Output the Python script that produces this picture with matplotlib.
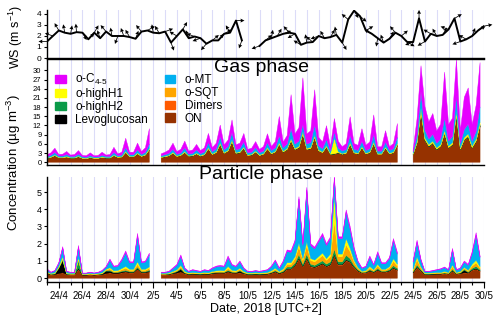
import numpy as np
import pandas as pd
import matplotlib
matplotlib.use('Agg')
import matplotlib.pyplot as plt
import matplotlib.dates as mdates
import matplotlib.patches as mpatches
from matplotlib.ticker import FuncFormatter

plt.rcParams['font.family'] = ['Liberation Sans', 'DejaVu Sans']
plt.rcParams['mathtext.fontset'] = 'custom'
plt.rcParams['mathtext.rm'] = 'Liberation Sans'
plt.rcParams['mathtext.it'] = 'Liberation Sans:italic'
plt.rcParams['mathtext.default'] = 'regular'

nan = np.nan

# ---------------- time bases ----------------
conc_time = pd.date_range('2018-04-23 00:00', periods=111, freq='8h')
ws_time = pd.date_range('2018-04-23 00:00', periods=75, freq='12h')

# ---------------- wind ----------------
ws_speed = [1.5, 2.0, 2.5, 2.3, 2.2, 2.35, 2.3, 1.7, 2.3, 1.8,
            2.4, 2.0, 2.0, 2.0, 1.9, 1.75, 2.4, 2.5, 2.3, 2.25,
            2.4, 1.4, 2.0, 2.6, 1.8, 1.95, 1.8, 1.3, 1.6, 1.6,
            2.2, 2.3, 3.4, 1.6, nan, nan,
            1.1, 1.6, 1.8, 2.0, 2.2, 2.3, 2.2, 1.2, 1.4, 1.45,
            2.0, 1.8, 1.9, 2.1, 1.4, 3.5, 4.3, 3.8, 2.5, 2.2,
            1.8, 1.4, 1.75, 2.3, 2.0, 1.45, 1.45, 3.6, 1.5, 2.2,
            2.0, 2.1, 2.6, 3.6, 1.5, 1.7, 2.0, 2.5, 2.9]
ws_dir = [180, 160, 120, 100, 80, 95, 300, 45, 60, 110,
          130, 100, 250, 110, 120, 70, 130, 30, 100, 120,
          20, 290, 150, 60, 110, 160, 200, 230, 40, 50,
          30, 120, 0, 250, nan, nan,
          200, 40, 80, 60, 20, 130, 210, 150, 100, 140,
          200, 120, 60, 100, 300, 140, 300, 320, 30, 150,
          260, 110, 60, 130, 40, 330, 200, 90, 210, 150,
          120, 60, 160, 30, 200, 150, 70, 30, 10]

# ---------------- gas phase (ug m-3) ----------------
gas_on = [1.2, 1.5, 2.0, 1.4, 1.4, 1.6, 1.3, 1.3, 1.7, 1.2, 1.1, 1.4, 1.2, 1.2, 1.5, 1.3, 1.3, 2.0,
          1.5, 1.6, 3.0, 1.7, 1.7, 2.6, 1.8, 2.2, 3.8, nan, nan, 1.5, 1.7, 2.0, 2.8, 1.8, 2.1, 3.0,
          1.9, 2.0, 2.6, 1.9, 2.3, 4.2, 2.4, 3.0, 5.6, 2.8, 3.5, 6.5, 2.8, 3.0, 4.4, 2.1, 2.3, 3.2,
          2.1, 2.5, 4.2, 2.6, 3.2, 5.6, 3.2, 4.0, 6.7, 4.0, 4.6, 8.9, 4.0, 4.3, 7.8, 3.6, 3.0, 4.8,
          2.5, 2.6, 3.0, 2.5, 2.8, 5.6, 2.9, 2.6, 4.5, 2.6, 3.0, 5.8, 2.5, 2.5, 4.4, 2.6, 3.0, 5.4,
          nan, nan, nan, 2.5, 6.0, 16.0, 7.0, 5.0, 6.0, 4.0, 5.0, 9.0, 4.5, 5.5, 14.9, 4.0, 7.0, 8.0,
          4.5, 6.5, 11.6]
gas_mt = [0.4, 0.5, 0.8, 0.4, 0.4, 0.6, 0.4, 0.4, 0.6, 0.4, 0.3, 0.5, 0.3, 0.3, 0.5, 0.4, 0.4, 0.8,
          0.4, 0.5, 1.2, 0.5, 0.5, 1.0, 0.5, 0.7, 1.5, nan, nan, 0.4, 0.5, 0.6, 1.0, 0.5, 0.6, 1.2,
          0.5, 0.6, 1.0, 0.6, 0.7, 1.6, 0.7, 1.0, 2.0, 0.9, 1.2, 2.4, 0.9, 1.0, 1.6, 0.7, 0.7, 1.1,
          0.7, 0.8, 1.6, 0.9, 1.1, 2.2, 1.1, 1.4, 3.3, 1.4, 1.7, 2.3, 1.4, 1.6, 3.4, 1.3, 1.0, 2.0,
          0.9, 2.0, 1.2, 0.9, 1.0, 2.3, 1.0, 0.9, 1.7, 0.9, 1.0, 2.4, 0.8, 0.8, 1.6, 0.9, 1.0, 2.0,
          nan, nan, nan, 0.7, 2.0, 5.4, 2.5, 1.8, 2.2, 1.5, 1.8, 4.0, 1.6, 2.0, 5.2, 1.4, 2.6, 3.2,
          1.6, 2.5, 5.0]
gas_c45 = [0.6, 0.8, 1.4, 0.5, 0.6, 1.0, 0.4, 0.6, 1.2, 0.4, 0.5, 0.9, 0.4, 0.5, 1.0, 0.4, 0.6, 1.7,
           0.6, 0.9, 3.1, 0.8, 0.8, 2.2, 0.9, 1.5, 5.0, nan, nan, 0.6, 0.8, 1.1, 2.0, 0.9, 1.2, 2.2,
           1.0, 1.1, 1.8, 1.0, 1.4, 3.0, 1.3, 1.8, 3.8, 1.6, 2.1, 4.1, 1.6, 1.8, 2.8, 1.1, 1.3, 2.0,
           1.1, 1.5, 2.9, 1.3, 2.0, 6.3, 1.9, 2.8, 11.1, 3.3, 4.4, 15.3, 3.3, 3.8, 11.5, 2.8, 2.2, 4.5,
           1.3, 4.4, 2.2, 1.3, 1.9, 6.1, 1.8, 1.7, 4.1, 1.7, 2.2, 6.4, 1.4, 1.4, 3.7, 1.2, 1.7, 4.5,
           nan, nan, nan, 0.5, 5.4, 8.5, 7.6, 5.6, 6.8, 4.0, 4.8, 15.0, 5.4, 6.0, 11.9, 4.1, 10.5, 11.8,
           5.4, 8.5, 14.5]
gas_h1 = [.10, .12, .18, .10, .10, .15, .10, .10, .15, .10, .10, .12, .10, .10, .12, .10, .10, .18,
          .10, .12, .25, .12, .12, .20, .12, .15, .30, nan, nan, .10, .12, .14, .20, .12, .15, .22,
          .12, .14, .20, .14, .16, .30, .16, .20, .35, .18, .22, .40, .18, .20, .30, .14, .15, .22,
          .14, .16, .30, .16, .20, .40, .20, .25, .45, .25, .30, .50, .25, .28, .45, .22, .20, .30,
          .15, 5.0, .20, .16, .18, .40, .18, .16, .30, .16, .20, .40, .15, .15, .30, .16, .20, .35,
          nan, nan, nan, .15, .40, .80, .50, .40, .45, .35, .40, .70, .40, .45, .80, .35, .55, .60,
          .40, .50, .70]
gas_h2 = [.06, .07, .10, .06, .06, .08, .06, .06, .08, .05, .05, .07, .05, .05, .07, .06, .06, .10,
          .06, .07, .14, .07, .07, .12, .07, .09, .18, nan, nan, .06, .07, .08, .12, .07, .09, .13,
          .07, .08, .11, .08, .09, .16, .09, .11, .20, .10, .12, .22, .10, .11, .16, .08, .08, .12,
          .08, .09, .16, .09, .11, .22, .11, .14, .28, .14, .16, .30, .14, .15, .28, .12, .11, .18,
          .09, .14, .12, .09, .10, .22, .10, .09, .18, .09, .11, .24, .09, .09, .16, .09, .11, .20,
          nan, nan, nan, .08, .22, .45, .30, .22, .25, .20, .22, .40, .22, .25, .45, .20, .30, .35,
          .22, .30, .40]
gas_sqt = [.03, .04, .05, .03, .03, .04, .03, .03, .04, .03, .03, .04, .03, .03, .04, .03, .03, .05,
           .03, .04, .07, .04, .04, .06, .04, .05, .09, nan, nan, .03, .04, .04, .06, .04, .05, .07,
           .04, .04, .06, .04, .05, .08, .05, .06, .10, .05, .06, .11, .05, .06, .08, .04, .04, .06,
           .04, .05, .08, .05, .06, .11, .06, .07, .14, .07, .08, .15, .07, .08, .14, .06, .06, .09,
           .05, .08, .06, .05, .05, .11, .05, .05, .09, .05, .06, .12, .05, .05, .08, .05, .06, .10,
           nan, nan, nan, .04, .11, .22, .15, .11, .12, .10, .11, .20, .11, .12, .22, .10, .15, .18,
           .11, .15, .20]
gas_dim = [.02, .02, .03, .02, .02, .02, .02, .02, .02, .02, .02, .02, .02, .02, .02, .02, .02, .03,
           .02, .02, .04, .02, .02, .03, .02, .03, .05, nan, nan, .02, .02, .02, .03, .02, .03, .04,
           .02, .02, .03, .02, .03, .04, .03, .03, .05, .03, .03, .06, .03, .03, .04, .02, .02, .03,
           .02, .03, .04, .03, .03, .06, .03, .04, .07, .04, .04, .08, .04, .04, .07, .03, .03, .05,
           .03, .04, .03, .03, .03, .06, .03, .03, .05, .03, .03, .06, .03, .03, .04, .03, .03, .05,
           nan, nan, nan, .02, .06, .11, .08, .06, .06, .05, .06, .10, .06, .06, .11, .05, .08, .09,
           .06, .08, .10]
gas_levo = [.02, .02, .02, .03, .03, .02, .02, .02, .02, .02, .02, .02, .02, .02, .02, .03, .02, .02,
            .02, .02, .03, .02, .02, .03, .02, .02, .03, nan, nan, .02, .02, .02, .02, .02, .02, .03,
            .02, .02, .02, .02, .02, .03, .02, .02, .03, .02, .02, .03, .02, .02, .02, .02, .02, .02,
            .02, .02, .02, .02, .02, .03, .02, .02, .03, .03, .03, .03, .03, .03, .03, .02, .02, .02,
            .02, .02, .02, .02, .02, .03, .02, .02, .02, .02, .02, .03, .02, .02, .02, .02, .02, .03,
            nan, nan, nan, .02, .03, .04, .04, .03, .03, .03, .03, .04, .03, .03, .04, .03, .04, .04,
            .03, .04, .04]

# ---------------- particle phase (ug m-3) ----------------
p_on = [.25, .18, .20, .25, .30, .20, .18, .18, .50, .16, .16, .18, .16, .18, .20, .25, .30, .25,
        .25, .30, .35, .30, .30, .50, .30, .30, .35, nan, nan, .18, .18, .20, .25, .28, .35, .25,
        .20, .22, .20, .20, .22, .20, .25, .27, .28, .27, .35, .28, .27, .30, .25, .20, .20, .20,
        .20, .20, .22, .27, .35, .25, .32, .50, .50, .70, 1.1, .65, 1.1, .65, .60, .70, .80, .65,
        .75, 1.3, .75, .75, 1.0, .90, .60, .40, .28, .30, .40, .32, .45, .34, .34, .40, .55, .45,
        nan, nan, nan, .30, .60, .40, .20, .20, .20, .22, .22, .25, .22, .40, .22, .25, .30, .28,
        .45, .50, .40]
p_dim = [.01, .01, .01, .01, .01, .01, .01, .01, .02, .01, .01, .01, .01, .01, .01, .01, .01, .01,
         .01, .01, .01, .01, .01, .02, .01, .01, .01, nan, nan, .01, .01, .01, .01, .01, .01, .01,
         .01, .01, .01, .01, .01, .01, .01, .01, .01, .01, .01, .01, .01, .01, .01, .01, .01, .01,
         .01, .01, .01, .01, .01, .01, .01, .02, .02, .02, .03, .02, .03, .02, .02, .02, .02, .02,
         .02, .03, .02, .02, .03, .02, .02, .01, .01, .01, .01, .01, .01, .01, .01, .01, .02, .01,
         nan, nan, nan, .01, .02, .01, .01, .01, .01, .01, .01, .01, .01, .01, .01, .01, .01, .01,
         .01, .02, .01]
p_levo = [.03, .02, .03, .30, .70, .02, .02, .02, .08, .02, .02, .02, .02, .02, .03, .15, .10, .05,
          .06, .06, .05, .04, .04, .05, .04, .04, .06, nan, nan, .02, .02, .02, .03, .08, .15, .03,
          .02, .02, .03, .02, .02, .03, .03, .03, .03, .03, .05, .04, .03, .10, .03, .02, .02, .03,
          .02, .03, .02, .03, .03, .03, .03, .03, .03, .04, .05, .03, .05, .03, .03, .04, .04, .03,
          .04, .05, .04, .04, .05, .04, .03, .03, .02, .02, .03, .02, .03, .02, .02, .03, .04, .03,
          nan, nan, nan, .04, .04, .03, .02, .02, .03, .02, .02, .02, .02, .03, .02, .03, .15, .04,
          .03, .05, .03]
p_h2 = [.02, .02, .02, .04, .06, .02, .02, .02, .40, .02, .02, .02, .02, .02, .02, .03, .05, .03,
        .03, .04, .05, .04, .04, .08, .04, .04, .05, nan, nan, .02, .02, .02, .03, .03, .05, .03,
        .02, .02, .02, .02, .02, .02, .03, .03, .03, .03, .05, .03, .03, .04, .03, .02, .02, .02,
        .02, .02, .02, .03, .05, .03, .05, .10, .10, .12, .20, .12, .22, .12, .10, .12, .15, .12,
        .14, .30, .14, .14, .25, .18, .10, .05, .03, .03, .06, .04, .08, .04, .04, .06, .12, .08,
        nan, nan, nan, .04, .12, .05, .02, .02, .02, .02, .02, .03, .02, .08, .02, .03, .05, .03,
        .08, .12, .06]
p_sqt = [.02, .02, .02, .03, .06, .02, .02, .02, .10, .01, .01, .02, .01, .02, .02, .03, .08, .04,
         .05, .08, .12, .07, .07, .15, .07, .07, .10, nan, nan, .02, .02, .02, .03, .04, .10, .03,
         .02, .03, .02, .02, .03, .02, .03, .04, .05, .04, .10, .05, .04, .07, .03, .02, .02, .02,
         .02, .02, .03, .04, .08, .03, .07, .15, .15, .25, .45, .22, .50, .22, .20, .25, .30, .22,
         .30, 1.6, .30, .30, .60, .40, .20, .08, .03, .04, .10, .05, .14, .06, .06, .10, .25, .14,
         nan, nan, nan, .07, .30, .10, .02, .02, .02, .03, .03, .04, .03, .15, .03, .03, .07, .05,
         .14, .20, .10]
p_h1 = [.03, .02, .03, .05, .12, .03, .02, .02, .10, .02, .02, .02, .02, .02, .03, .04, .07, .05,
        .05, .07, .10, .06, .06, .15, .06, .06, .08, nan, nan, .02, .02, .03, .04, .05, .08, .04,
        .03, .03, .03, .03, .03, .03, .04, .05, .05, .05, .12, .05, .05, .06, .04, .03, .03, .03,
        .03, .03, .03, .05, .06, .04, .06, .10, .10, .12, .20, .10, .20, .10, .10, .12, .15, .10,
        .15, 1.5, .15, .15, .35, .20, .10, .05, .03, .04, .08, .05, .10, .05, .05, .07, .15, .10,
        nan, nan, nan, .06, .15, .06, .03, .03, .03, .03, .03, .04, .03, .10, .03, .04, .05, .05,
        .10, .15, .07]
p_mt = [.15, .06, .11, .18, .50, .08, .06, .06, .60, .05, .05, .06, .05, .06, .11, .13, .42, .22,
        .25, .46, .80, .37, .37, 1.5, .37, .42, .70, nan, nan, .06, .06, .08, .17, .26, .51, .17,
        .08, .14, .11, .08, .14, .11, .17, .23, .25, .23, .50, .29, .23, .36, .17, .08, .08, .11,
        .08, .11, .14, .23, .42, .17, .40, .64, .60, .85, 2.55, .76, 3.0, .76, .65, .85, 1.0, .76,
        .90, 1.0, .90, .90, 1.55, 1.1, .65, .32, .17, .22, .52, .26, .63, .32, .32, .46, 1.05, .59,
        nan, nan, nan, .42, .85, .38, .08, .08, .11, .14, .19, .22, .14, .86, .14, .17, .31, .29,
        .63, 1.45, .55]
p_c45 = [.04, .02, .03, .04, .08, .02, .02, .02, .10, .01, .01, .02, .01, .02, .03, .03, .08, .05,
         .05, .08, .10, .06, .06, .15, .06, .06, .10, nan, nan, .02, .02, .02, .04, .05, .10, .04,
         .02, .03, .03, .02, .03, .03, .04, .04, .05, .04, .11, .05, .04, .06, .04, .02, .02, .03,
         .02, .03, .03, .04, .06, .04, .06, .10, .10, .10, .15, .10, .17, .10, .10, .10, .14, .10,
         .10, .15, .10, .10, .13, .16, .10, .06, .03, .04, .09, .05, .10, .06, .06, .07, .12, .10,
         nan, nan, nan, .06, .12, .07, .02, .02, .03, .03, .03, .04, .03, .10, .03, .04, .06, .05,
         .10, .15, .08]

labels = ['ON', 'Dimers', 'Levoglucosan', 'o-highH2', 'o-SQT', 'o-highH1', 'o-MT', r'o-C$_{\text{4-5}}$']
colors = ['#963200', '#ff5a00', '#000000', '#0a9a48', '#ffa500', '#ffff00', '#00b0f0', '#e600ff']

# ---------------- figure ----------------
fig = plt.figure(figsize=(5.0, 3.21), dpi=100)
L, W = 0.094, 0.874
ax_ws = fig.add_axes([L, 0.8193, W, 0.1495])
ax_g = fig.add_axes([L, 0.486, W, 0.330])
ax_p = fig.add_axes([L, 0.1215, W, 0.327])

xc = mdates.date2num(conc_time)
xw = mdates.date2num(ws_time)
x0 = mdates.date2num(pd.Timestamp('2018-04-23'))
x1 = mdates.date2num(pd.Timestamp('2018-05-30'))

grid_col = '#dcdcf8'
for ax in (ax_ws, ax_g, ax_p):
    ax.set_xlim(x0, x1)
    ax.xaxis.set_major_locator(mdates.DayLocator(bymonthday=range(2, 32, 2)))
    ax.xaxis.set_minor_locator(mdates.DayLocator())
    ax.grid(axis='x', which='both', color=grid_col, lw=0.8)
    ax.set_axisbelow(True)
    ax.spines['right'].set_visible(False)
    for s in ax.spines.values():
        s.set_linewidth(1.0)
    ax.tick_params(axis='y', direction='out', length=2.5, width=0.8, pad=1.5)

# wind speed panel
ax_ws.plot(xw, ws_speed, color='black', lw=1.4, zorder=3)
spd = np.array(ws_speed, float)
ang = np.deg2rad(np.array(ws_dir, float))
ok = ~np.isnan(spd)
ax_ws.quiver(xw[ok], spd[ok], np.cos(ang[ok]), np.sin(ang[ok]), angles='uv',
             scale_units='inches', scale=1 / 0.085, units='inches', width=0.008,
             headwidth=5, headlength=5, headaxislength=4.5, pivot='tail',
             color='black', zorder=4, clip_on=False)
ax_ws.set_ylim(0, 4.36)
ax_ws.set_yticks([0, 1, 2, 3, 4])
ax_ws.spines['top'].set_visible(False)
ax_ws.tick_params(axis='x', which='both', length=0, labelbottom=False)
ax_ws.tick_params(axis='y', labelsize=6)

# gas panel
gas_stack = [gas_on, gas_dim, gas_levo, gas_h2, gas_sqt, gas_h1, gas_mt, gas_c45]
ax_g.stackplot(xc, *[np.array(s, float) for s in gas_stack], colors=colors,
               linewidth=0.3, edgecolor='face', zorder=2)
ax_g.set_ylim(-0.9, 33.7)
ax_g.set_yticks(range(0, 31, 3))
ax_g.tick_params(axis='x', which='both', length=0, labelbottom=False)
ax_g.tick_params(axis='y', labelsize=5.5)

# particle panel
p_stack = [p_on, p_dim, p_levo, p_h2, p_sqt, p_h1, p_mt, p_c45]
ax_p.stackplot(xc, *[np.array(s, float) for s in p_stack], colors=colors,
               linewidth=0.3, edgecolor='face', zorder=2)
ax_p.set_ylim(-0.22, 5.87)
ax_p.set_yticks(range(0, 6))
ax_p.spines['top'].set_visible(False)
ax_p.tick_params(axis='y', labelsize=6.5)
ax_p.xaxis.set_major_formatter(FuncFormatter(
    lambda v, pos: f"{mdates.num2date(v).day}/{mdates.num2date(v).month}"))
ax_p.tick_params(axis='x', which='major', length=4.5, width=0.8, labelsize=7, pad=2)
ax_p.tick_params(axis='x', which='minor', length=2.5, width=0.8)

# legend
order = [7, 5, 3, 2, 6, 4, 1, 0]
handles = [mpatches.Patch(color=colors[i], label=labels[i]) for i in order]
ax_g.legend(handles=handles, ncol=2, loc='upper left', bbox_to_anchor=(0.0, 0.955),
            frameon=False, fontsize=8.5, handlelength=0.9, handleheight=0.75,
            handletextpad=0.8, labelspacing=0.08, columnspacing=1.4, borderpad=0.2)

# texts
fig.text(0.523, 0.790, 'Gas phase', fontsize=14, ha='center', va='center')
fig.text(0.522, 0.455, 'Particle phase', fontsize=14, ha='center', va='center')
fig.text(0.032, 0.885, 'WS (m s$^{-1}$)', fontsize=9, rotation=90, ha='center', va='center')
fig.text(0.027, 0.494, 'Concentration (µg m$^{-3}$)', fontsize=9.5, rotation=90,
         ha='center', va='center')
fig.text(0.531, 0.036, 'Date, 2018 [UTC+2]', fontsize=9, ha='center', va='center')

fig.savefig('out.png', dpi=100)
